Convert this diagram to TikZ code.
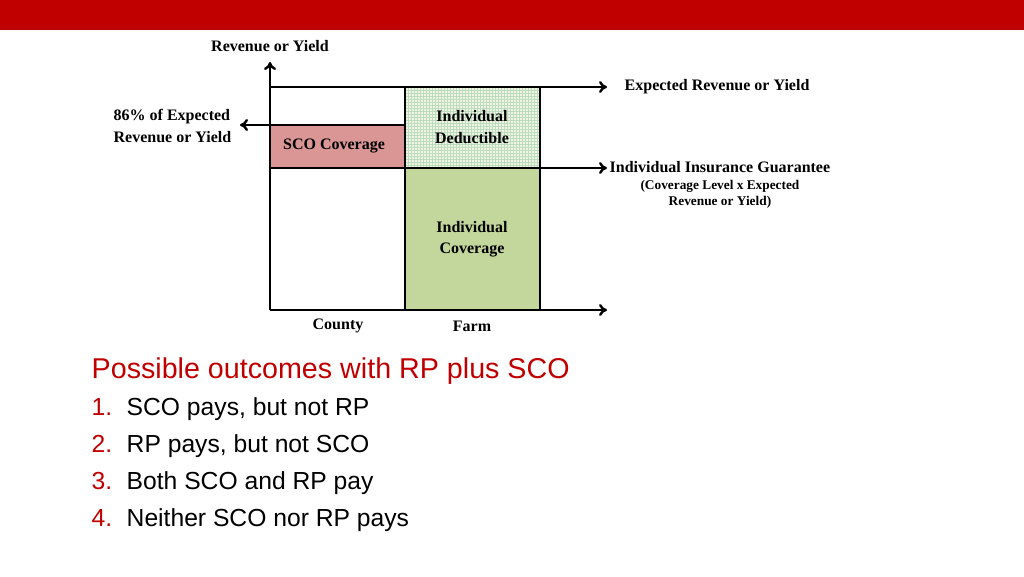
\documentclass[tikz,border=0pt]{standalone}
\usepackage{fontspec}
\setmainfont{Liberation Serif}
\newfontfamily\arialfont{Liberation Sans}
\usetikzlibrary{arrows.meta, positioning}
\definecolor{barred}{HTML}{C00000}
\definecolor{scored}{HTML}{D99694}
\definecolor{covgreen}{HTML}{C3D69B}
\definecolor{dedgreen}{HTML}{F0F4E4}
\begin{document}
\begin{tikzpicture}[x=0.75pt, y=-0.75pt,
      % Define styles
      axisarrow/.style={-{To[length=6pt,width=9pt]}, line width=1.8pt},
      box/.style={draw, line width=1.8pt},
      lbl/.style={font=\fontsize{12}{16}\selectfont\bfseries, align=center},
      item/.style={font=\arialfont\fontsize{18.5}{22}\selectfont, anchor=base west}
    ]
    \useasboundingbox (0,0) rectangle (1024,576);

    % Top bar
    \fill[barred] (0,0) rectangle (1024,30);

    % Boxes
    \fill[scored] (270,125) rectangle (405,168);
    \fill[dedgreen] (405,87) rectangle (540,168);
    \draw[green!30!gray!40, line width=0.3pt, step=2.25pt] (405,87) grid (540,168);
    \fill[covgreen] (405,168) rectangle (540,310);
    \draw[box] (405,87) -- (405,310);
    \draw[box] (540,87) -- (540,310);
    \draw[box] (270,125) -- (405,125);

    % Axes and levels
    \coordinate (origin) at (270,310);
    \coordinate (ytop) at (270,62);
    \coordinate (xend) at (607,310);
    \coordinate (expend) at (607,87);
    \coordinate (guarend) at (607,168);
    \coordinate (scoend) at (240,125);
    \draw[axisarrow] (origin) -- (ytop);
    \draw[axisarrow] (origin) -- (xend);
    \draw[axisarrow] (270,87) -- (expend);
    \draw[axisarrow] (270,168) -- (guarend);
    \draw[axisarrow] (270,125) -- (scoend);

    % Labels in boxes
    \node[lbl] (sco) at (334,146) {SCO Coverage};
    \node[lbl] (ded) at (472,127) {Individual\\Deductible};
    \node[lbl] (cov) at (472,239) {Individual\\Coverage};

    % Axis labels
    \node[lbl] (ylab) at (270,46) {Revenue or Yield};
    \node[lbl, anchor=west] (explab) at (620,87) {Expected Revenue or Yield};
    \node[lbl, anchor=east, align=left] (scolab) at (236,126) {86\% of Expected\\Revenue or Yield};
    \node[lbl, anchor=west] (guarlab) at (605,167) {Individual Insurance Guarantee};
    \node[lbl, font=\fontsize{10}{12}\selectfont\bfseries, below=-1pt of guarlab] (guarnote) {(Coverage Level x Expected\\Revenue or Yield)};
    \node[lbl] (county) at (338,326) {County};
    \node[lbl] (farm) at (472,326) {Farm};

    % Outcomes
    \node[item, text=barred, font=\arialfont\fontsize{21.5}{26}\selectfont] (title) at (87,378) {Possible outcomes with RP plus SCO};
    \foreach \n/\t/\yy in {1/SCO pays{,} but not RP/415, 2/RP pays{,} but not SCO/452, 3/Both SCO and RP pay/489, 4/Neither SCO nor RP pays/526}{
      \node[item, text=barred] (num\n) at (87,\yy) {\n.};
      \node[item] (out\n) at (122,\yy) {\t};
    }

  \end{tikzpicture}
\end{document}
